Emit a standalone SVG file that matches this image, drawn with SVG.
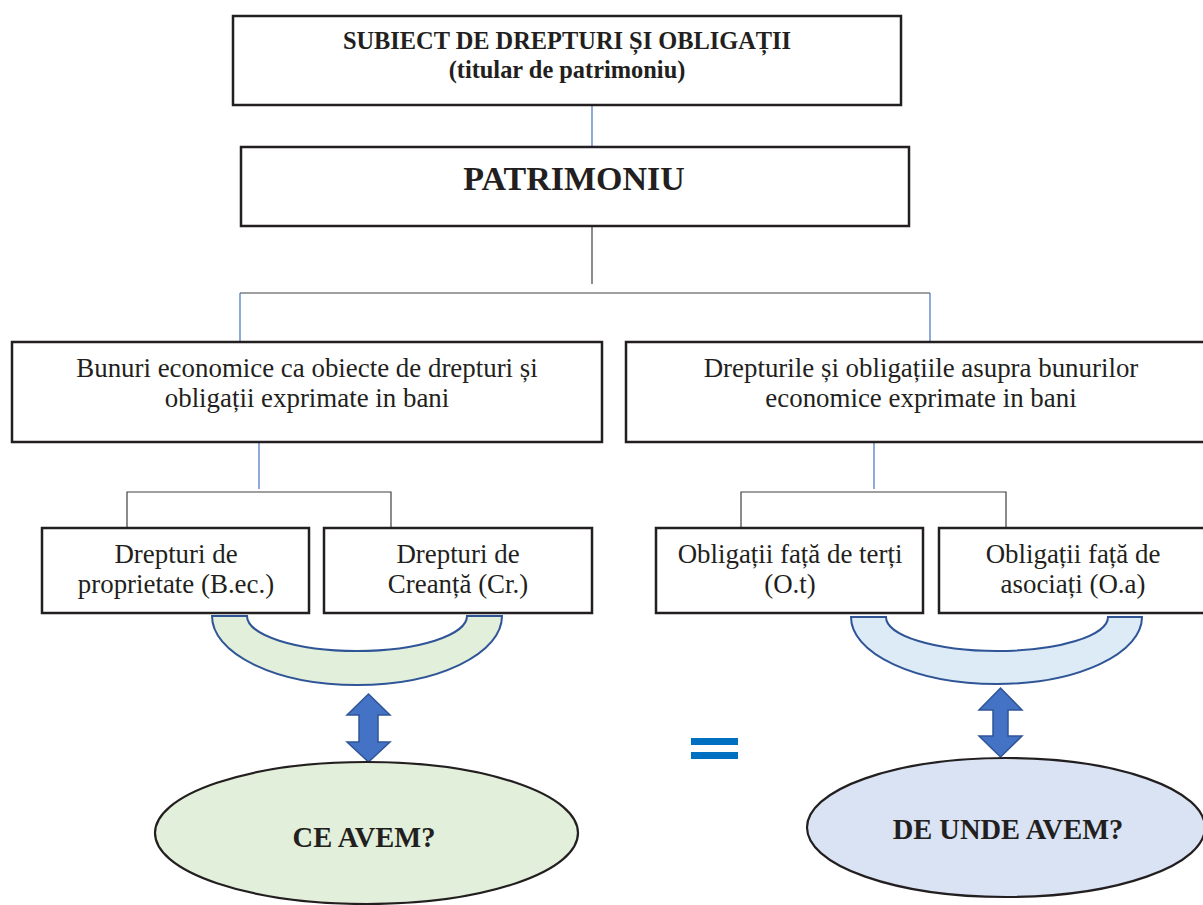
<svg xmlns="http://www.w3.org/2000/svg" width="1203" height="905" viewBox="0 0 1203 905">
<style>
.box{fill:#fff;stroke:#231F20;stroke-width:2.5}
.t{font-family:"Liberation Serif","Times New Roman",serif;fill:#231F20;text-anchor:middle}
.b{font-weight:bold}
.m{font-size:26.9px}
.blue{stroke:#4472C4;stroke-width:1.2;fill:none}
.gray{stroke:#404040;stroke-width:1.2;fill:none}
.brace{stroke:#2F5597;stroke-width:2}
.arr{fill:#4472C4;stroke:#2F5597;stroke-width:1.5}
.ell{stroke:#231F20;stroke-width:2.2}
</style>
<rect width="1203" height="905" fill="#fff"/>
<g id="connectors">
<line class="blue" x1="592" y1="106" x2="592" y2="147"/>
<line class="gray" x1="592" y1="226" x2="592" y2="284"/>
<polyline class="gray" points="240,293 930,293"/>
<line class="blue" x1="240" y1="293" x2="240" y2="342"/>
<line class="blue" x1="930" y1="293" x2="930" y2="342"/>
<line class="blue" x1="259" y1="442" x2="259" y2="489"/>
<polyline class="gray" points="127,528 127,492 391,492 391,528"/>
<line class="blue" x1="874" y1="442" x2="874" y2="489"/>
<polyline class="gray" points="741,528 741,492 1006,492 1006,528"/>
</g>
<g id="subiect">
<rect class="box" x="233" y="16" width="668" height="89"/>
<text class="t b" x="567" y="49" font-size="24.4">SUBIECT DE DREPTURI ȘI OBLIGAȚII</text>
<text class="t b" x="567" y="78" font-size="24.4">(titular de patrimoniu)</text>
</g>
<g id="patrimoniu">
<rect class="box" x="241" y="147" width="668" height="79"/>
<text class="t b" x="574" y="190" font-size="34">PATRIMONIU</text>
</g>
<g id="bunuri">
<rect class="box" x="12" y="342" width="590" height="100"/>
<text class="t m" x="307" y="377">Bunuri economice ca obiecte de drepturi și</text>
<text class="t m" x="307" y="407">obligații exprimate in bani</text>
</g>
<g id="drepturile">
<rect class="box" x="626" y="342" width="590" height="100"/>
<text class="t m" x="921" y="377">Drepturile și obligațiile asupra bunurilor</text>
<text class="t m" x="921" y="407">economice exprimate in bani</text>
</g>
<g id="proprietate">
<rect class="box" x="42" y="528" width="267" height="85"/>
<text class="t m" x="176" y="563">Drepturi de</text>
<text class="t m" x="176" y="593">proprietate (B.ec.)</text>
</g>
<g id="creanta">
<rect class="box" x="324" y="528" width="268" height="85"/>
<text class="t m" x="458" y="563">Drepturi de</text>
<text class="t m" x="458" y="593">Creanță (Cr.)</text>
</g>
<g id="terti">
<rect class="box" x="656" y="528" width="267" height="85"/>
<text class="t m" x="790" y="563">Obligații față de terți</text>
<text class="t m" x="790" y="593">(O.t)</text>
</g>
<g id="asociati">
<rect class="box" x="939" y="528" width="268" height="85"/>
<text class="t m" x="1073" y="563">Obligații față de</text>
<text class="t m" x="1073" y="593">asociați (O.a)</text>
</g>
<g id="brace-left">
<path class="brace" fill="#E2EFDA" d="M212,616 L247,616 A110,35 0 0 0 467,616 L502,616 A145,69 0 0 1 212,616 Z"/>
</g>
<g id="brace-right">
<path class="brace" fill="#DDEBF7" d="M851,617 L886,617 A111,34 0 0 0 1108,617 L1142,617 A145.5,67 0 0 1 851,617 Z"/>
</g>
<g id="arrow-left">
<path class="arr" d="M368.5,694 L390,715 L378,715 L378,742 L390,742 L368.5,762 L347,742 L359,742 L359,715 L347,715 Z"/>
</g>
<g id="arrow-right">
<path class="arr" d="M1000.5,688 L1022,710 L1008,710 L1008,736 L1022,736 L1000.5,757 L979,736 L993,736 L993,710 L979,710 Z"/>
</g>
<g id="equals">
<rect x="691" y="738" width="47" height="7" fill="#0070C0"/>
<rect x="691" y="752" width="47" height="7" fill="#0070C0"/>
</g>
<g id="ce-avem">
<ellipse class="ell" cx="366.5" cy="833" rx="211.5" ry="71" fill="#E2EFDA"/>
<text class="t b" x="364" y="847" font-size="28.5">CE AVEM?</text>
</g>
<g id="de-unde-avem">
<ellipse class="ell" cx="1006" cy="827.5" rx="199" ry="69.5" fill="#DAE3F3"/>
<text class="t b" x="1008" y="839" font-size="28.5">DE UNDE AVEM?</text>
</g>
</svg>
